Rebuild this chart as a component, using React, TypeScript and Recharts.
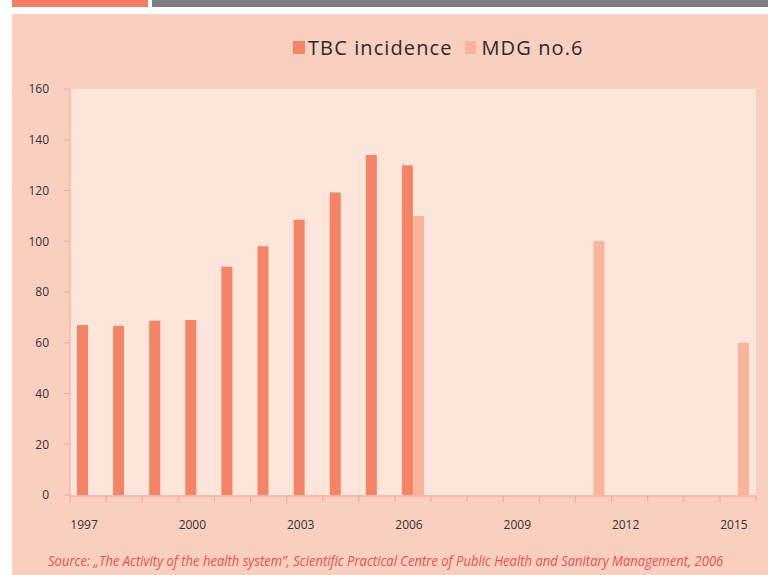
import React, { useLayoutEffect, useRef, useState } from "react";
import { BarChart, Bar, XAxis, YAxis, CartesianGrid } from "recharts";

const years = [1997, 1998, 1999, 2000, 2001, 2002, 2003, 2004, 2005, 2006, 2007, 2008, 2009, 2010, 2011, 2012, 2013, 2014, 2015];
const tbcIncidence: (number | null)[] = [67, 66.7, 68.7, 69, 90, 98, 108.5, 119.2, 134, 130, null, null, null, null, null, null, null, null, null];
const mdgTarget: (number | null)[] = [null, null, null, null, null, null, null, null, null, 110, null, null, null, null, 100, null, null, null, 60];
const yTicks = [0, 20, 40, 60, 80, 100, 120, 140, 160];
const seriesNames = ["TBC incidence", "MDG no.6"];
const sourceText = "Source: \u201EThe Activity of the health system\u201D, Scientific Practical Centre of Public Health and Sanitary Management, 2006";

const data = years.map((year, i) => ({ year, tbc: tbcIncidence[i], mdg: mdgTarget[i] }));
const boundaryTicks = [...years.map((y) => y - 0.5), years[years.length - 1] + 0.5];

const TBC_COLOR = "#F58466";
const MDG_COLOR = "#FAB49C";
const AXIS_COLOR = "#F4A598";
const PANEL = "#F9CFC0";
const PLOT_BG = "#FDE5DB";
const FONT = "'Open Sans', 'Noto Sans', sans-serif";
const SOURCE_WIDTH = 675;

function SourceNote() {
  const ref = useRef<HTMLSpanElement>(null);
  const [scale, setScale] = useState(0.76);
  useLayoutEffect(() => {
    if (ref.current) {
      const w = ref.current.offsetWidth;
      if (w > 0) setScale(SOURCE_WIDTH / w);
    }
  }, []);
  return (
    <span
      ref={ref}
      style={{
        position: "absolute",
        left: 48,
        top: 550,
        display: "inline-block",
        color: "#E9505A",
        fontStyle: "italic",
        fontSize: 15,
        whiteSpace: "nowrap",
        transform: `scaleX(${scale})`,
        transformOrigin: "0 0",
      }}
    >
      {sourceText}
    </span>
  );
}

export default function App() {
  return (
    <div style={{ position: "absolute", left: 0, top: 0, width: 768, height: 575, background: "#ffffff", overflow: "hidden", fontFamily: FONT }}>
      <div style={{ position: "absolute", left: 12, top: 0, width: 136, height: 7, background: "#F07F66" }} />
      <div style={{ position: "absolute", left: 152, top: 0, width: 616, height: 7, background: "#7F7F83" }} />
      <div style={{ position: "absolute", left: 12, top: 14, width: 756, height: 561, background: PANEL }} />
      <div style={{ position: "absolute", left: 0, top: 0 }}>
        <BarChart
          width={768}
          height={575}
          data={data}
          margin={{ top: 89, right: 12, bottom: 78, left: 0 }}
          barCategoryGap={7}
          barGap={0}
          style={{ fontFamily: FONT }}
        >
          <CartesianGrid fill={PLOT_BG} horizontal={false} vertical={false} stroke="none" />
          <XAxis
            xAxisId="cat"
            dataKey="year"
            interval={2}
            tickLine={false}
            axisLine={false}
            tickSize={6}
            tickMargin={19}
            height={1}
            tick={{ fill: "#333333", fontSize: 12, dx: -4 }}
          />
          <XAxis
            xAxisId="grid"
            type="number"
            dataKey="year"
            domain={[boundaryTicks[0], boundaryTicks[boundaryTicks.length - 1]]}
            ticks={boundaryTicks}
            tickFormatter={() => ""}
            tickSize={6}
            tickLine={{ stroke: AXIS_COLOR }}
            axisLine={{ stroke: AXIS_COLOR }}
            height={1}
            allowDataOverflow
          />
          <YAxis
            domain={[0, 160]}
            ticks={yTicks}
            width={70}
            tickSize={6}
            tickMargin={15}
            tickLine={{ stroke: AXIS_COLOR }}
            axisLine={{ stroke: AXIS_COLOR }}
            tick={{ fill: "#333333", fontSize: 12 }}
          />
          <Bar xAxisId="cat" dataKey="tbc" name={seriesNames[0]} fill={TBC_COLOR} isAnimationActive={false} />
          <Bar xAxisId="cat" dataKey="mdg" name={seriesNames[1]} fill={MDG_COLOR} isAnimationActive={false} />
        </BarChart>
      </div>
      <div style={{ position: "absolute", left: 293, top: 34, display: "flex", alignItems: "center", color: "#2B2B2B", fontSize: 20, letterSpacing: 1.1, whiteSpace: "nowrap" }}>
        <span style={{ display: "inline-block", width: 12, height: 13, background: TBC_COLOR, marginRight: 3 }} />
        <span>{seriesNames[0]}</span>
        <span style={{ display: "inline-block", width: 11, height: 13, background: MDG_COLOR, marginLeft: 12, marginRight: 6 }} />
        <span>{seriesNames[1]}</span>
      </div>
      <SourceNote />
    </div>
  );
}
